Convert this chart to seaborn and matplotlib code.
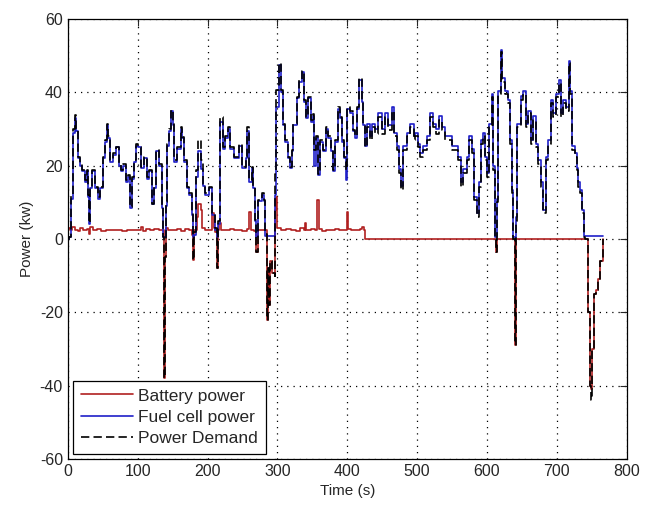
import matplotlib
matplotlib.use("Agg")
import matplotlib.pyplot as plt
import seaborn as sns
import numpy as np

# Power demand (kW) sampled at times (s)
t_dem = [0, 2, 4, 7, 10, 12, 14, 18, 21, 25, 27, 29, 30, 31.5, 35, 39, 42.5, 46, 50, 53.5,
         56, 58, 61, 64, 69, 72.6, 76, 79, 83, 85.5, 89, 92, 94.5, 97.4, 101, 104.6, 109, 112.7, 115.6, 120,
         123, 126, 131, 134.7, 136.6, 137.5, 139, 140, 141.4, 145, 148, 150, 152, 157, 162, 164, 166.7, 170, 174, 177.6,
         179, 181, 184, 187, 190, 193, 197, 201.5, 207, 211, 213, 215, 218, 221.6, 225, 229, 232, 238, 245.5, 250,
         255, 257, 260, 263, 265.5, 267.4, 270, 272.7, 277.4, 281, 282.7, 284.6, 286, 288, 290, 293, 296, 297, 298, 302,
         304.6, 307.5, 311, 315.6, 318, 320.4, 323, 327.6, 331.4, 334.7, 338, 341, 344.3, 347.6, 350.5, 352.4, 355, 358.6,
         361, 365, 369.6, 373, 376.3, 379.2, 382.5, 387.3, 389.7, 392, 395.4, 398.3, 400.2, 404, 408, 411.2, 414.5, 417.4,
         420.7, 423, 425.5, 428, 432, 435, 440, 444.6, 449.4, 454, 459, 464, 467, 471, 474.7, 477, 480.4, 485,
         490, 495, 497, 501, 504, 509, 514, 518.6, 523.4, 526.7, 531.5, 535.3, 540, 545, 549.6, 554.4, 559.2, 563,
         566.4, 571.1, 574.5, 578.3, 582.1, 586, 588.8, 591.7, 595, 597.4, 600, 603.1, 607, 609.3, 611.7, 613, 614.5, 616,
         620, 622, 626, 630, 633, 635.6, 638, 639.5, 641, 642.8, 649, 652.3, 655.7, 659.5, 663.3, 666.6, 670, 673.8,
         677.6, 680.5, 684.3, 688, 692, 695.3, 698.6, 702.5, 705.8, 709.6, 713, 716.8, 719, 721.6, 725.4, 728.7, 731.1, 733.5,
         735.9, 738.3, 741, 744, 747, 749, 751, 753, 756, 759, 762, 766]
demand = [0, 0.5, 12, 30, 33.8, 30, 22.5, 20.6, 18.8, 16, 18.8, 12, 4.3, 14.3, 18.8, 14.3, 11.5, 14.3, 22.5, 27,
          31.5, 28, 21.5, 23.4, 25.2, 20.6, 18.8, 20.6, 16, 17.5, 8.8, 16.9, 21.5, 26, 25.2, 19.7, 22.5, 17, 18.8, 9.7,
          14.3, 24.3, 20.6, 8.8, 0.6, -38, -5, 10, 26, 30, 35.2, 31.5, 21.5, 25, 30.6, 27.9, 21.5, 14.3, 12.5, 7,
          -5.7, 2, 18.8, 27, 21.5, 15, 12.5, 14.3, 7, 3, -8, 5, 33.4, 25, 28, 30.6, 25, 22.5, 26, 19.7,
          22.5, 30.6, 16, 19.7, 14.3, 5.2, -3.5, 10.6, 12.5, 10.6, 1.5, -22, -8, -18, -6, -9.3, -10, 17.9, 40.6, 48,
          40.6, 31.5, 27, 22.5, 19.7, 24.3, 31.5, 38.8, 43.4, 46, 38, 33.4, 38.8, 32.5, 34, 24.3, 28, 17.9,
          27, 24.3, 30.6, 28, 24.3, 18.8, 27, 36, 33.4, 27, 22.5, 18.8, 36, 35, 29.7, 28, 36, 44,
          38, 31.5, 25.2, 30.6, 27, 30.6, 28.8, 33.4, 28.8, 33.4, 29.7, 35, 28, 24.3, 18, 13.4, 24.3, 28,
          30.6, 27, 28, 25, 22.5, 24.3, 27, 33.4, 30.6, 28.8, 32.5, 29.7, 27, 27, 24.3, 24.3, 21.5, 14.3,
          18, 21.5, 27, 23.4, 10.6, 6, 14.3, 26, 28, 21.5, 17, 30.6, 38.7, 18.8, 0, -3.5, 10, 39.7,
          51, 43, 39.7, 37, 26, 12.5, 0, -29, 5, 30.6, 38, 39.7, 30.6, 34.3, 26, 32.5, 25, 20.5,
          14.3, 7, 21.5, 26, 37, 33.4, 38.7, 42.5, 33.4, 37, 35, 48, 39.7, 24.3, 22.5, 18.8, 14.3, 12.5,
          7, 0.6, 0, -20, -40, -44, -30, -15, -14, -11, -6, 0]

# Fuel cell power (kW), same sample times as demand
fuel = [0, 0.5, 11, 29, 33, 29.5, 22, 20, 18.5, 15.5, 18.5, 11.5, 4, 14, 18.5, 14, 11, 14, 22, 26.5,
        31, 27.5, 21, 23, 25, 20, 18.5, 20, 15.5, 17, 8.5, 16.5, 21, 25.5, 25, 19.5, 22, 16.5, 18.5, 9.5,
        14, 24, 20, 8.5, 0.6, 0.5, 0.5, 9, 25.5, 29.5, 35, 31, 21, 24.5, 30, 27.5, 21, 14, 12, 6.5,
        0.5, 1, 17, 24, 19, 14.5, 12, 14, 6.5, 2.5, 0.5, 4, 32, 24.5, 27.5, 30, 24.5, 22, 25.5, 19.5,
        22, 29.5, 15.5, 19.5, 14, 5, 0.5, 10.5, 12, 10.5, 0.8, 0.8, 0.8, 0.8, 0.8, 0.8, 0.8, 12, 36, 47.5,
        40, 31, 26.5, 22, 19.5, 24, 31, 38.5, 43, 45.5, 37.5, 33, 38.5, 32, 33.5, 20, 27.5, 17.5,
        26.5, 24, 30, 27.5, 24, 18.5, 26.5, 35.5, 33, 26.5, 22, 16, 35.5, 34.5, 29.5, 27.5, 35.5, 43.5,
        37.5, 31, 25.5, 31.5, 28, 31.5, 30, 34.5, 30, 34.5, 31, 36, 29, 25.5, 19, 14.5, 25.5, 29,
        31.5, 28, 29, 26, 23.5, 25.5, 28, 34.5, 31.5, 30, 33.5, 30.5, 28, 28, 25.5, 25.5, 22.5, 15.5,
        19, 22.5, 28, 24.5, 11.5, 7, 15.5, 27, 29, 22.5, 18, 31.5, 39.5, 20, 0.5, 0.5, 11, 40.5,
        51.5, 44, 40.5, 38, 27, 13.5, 0.5, 0.5, 6, 31.5, 39, 40.5, 31.5, 35, 27, 33.5, 26, 21.5,
        15.5, 8, 22.5, 27, 38, 34.5, 39.5, 43.5, 34.5, 38, 36, 48.5, 40.5, 25.5, 23.5, 19.5, 15.5, 13.5,
        8, 0.8, 0.8, 0.8, 0.8, 0.8, 0.8, 0.8, 0.8, 0.8, 0.8, 0.8]

# Battery power (kW)
t_bat = [0, 3, 6, 10, 14, 18, 22, 27, 30, 32, 36, 42, 48, 55, 62, 70, 78, 85, 92, 100,
         105, 108, 112, 118, 124, 130, 135, 137, 137.5, 139, 140, 144, 150, 156, 162, 168, 174, 177.6, 179, 181,
         185, 187, 190, 192, 197, 203, 207, 209, 211, 213, 215, 217, 220, 226, 232, 238, 244, 250, 256, 260,
         262, 267, 270, 272, 278, 282, 284.6, 286, 288, 290, 293, 296, 297, 298, 300, 305, 312, 320, 326, 332,
         338, 339.5, 341, 348, 354, 357, 359, 364, 370, 376, 382, 388, 394, 399, 401, 406, 412, 418, 421, 424,
         425.5, 611.7, 613, 614.5, 638, 639.5, 641, 741, 744, 747, 749, 751, 753, 756, 759, 762, 766]
battery = [3.0, 2.4, 3.2, 2.6, 2.2, 3.0, 2.5, 2.8, 1.5, 3.2, 2.4, 2.7, 2.3, 2.6, 2.4, 2.5, 2.3, 2.6, 2.4, 2.5,
           3.2, 2.3, 2.8, 2.4, 2.7, 2.5, 2.4, 0, -38, -5, 3, 2.6, 2.4, 2.7, 2.3, 2.8, 2.4, 1, -5.7, 2.5,
           6, 9.7, 8, 3, 2.6, 2.5, 7, 3, 2, -8, 2.5, 4.3, 2.6, 2.4, 2.7, 2.4, 2.6, 2.3, 2.8, 7.5,
           2.5, 2.2, -3.5, 2.5, 2.6, 2.4, -22, -8, -18, -6, -9.3, -10, 8, 11.5, 3, 2.4, 2.7, 2.5, 2.3, 2.9,
           2.5, 4.5, 2.4, 2.7, 2.6, 10.6, 2.8, 2.3, 2.6, 2.4, 2.7, 2.5, 2.4, 7.5, 2.8, 2.5, 2.6, 2.7, 3.2, 2.4,
           0, 0, -3.5, 0, 0, -29, 0, 0, -20, -40, -41, -30, -15, -14, -11, -6, 0]

x_ticks = [0, 100, 200, 300, 400, 500, 600, 700, 800]
y_ticks = [-60, -40, -20, 0, 20, 40, 60]

sns.set_style("white")
plt.rcParams['font.family'] = ['Liberation Sans', 'DejaVu Sans']
plt.rcParams['axes.unicode_minus'] = False

fig = plt.figure(figsize=(6.46, 5.05), dpi=100)
ax = fig.add_axes([0.105, 0.091, 0.865, 0.871])

sns.lineplot(x=t_bat, y=battery, ax=ax, color='#b02020', lw=1.2, estimator=None,
             sort=False, drawstyle='steps-post', label='Battery power')
sns.lineplot(x=t_dem, y=fuel, ax=ax, color='#1f1fc8', lw=1.2, estimator=None,
             sort=False, drawstyle='steps-post', label='Fuel cell power')
sns.lineplot(x=t_dem, y=demand, ax=ax, color='black', lw=1.2, estimator=None,
             sort=False, drawstyle='steps-post', linestyle=(0, (5, 2.5)), label='Power Demand')

ax.set_xlim(0, 800)
ax.set_ylim(-60, 60)
ax.set_xticks(x_ticks)
ax.set_yticks(y_ticks)
ax.tick_params(direction='in', length=5, top=True, right=True, labelsize=11.5, width=0.8)
ax.grid(True, linestyle=(0, (1, 4)), color='black', lw=0.9)
for s in ax.spines.values():
    s.set_color('black')
    s.set_linewidth(0.9)
ax.set_xlabel('Time (s)', fontsize=11)
ax.set_ylabel('Power (kw)', fontsize=11)

leg = ax.legend(loc='lower left', fontsize=12.5, frameon=True, fancybox=False,
                edgecolor='black', framealpha=1, borderpad=0.45, labelspacing=0.35,
                handlelength=3.0, handletextpad=0.3, borderaxespad=0.3)
leg.get_frame().set_linewidth(0.9)

fig.savefig('out.png', dpi=100)
